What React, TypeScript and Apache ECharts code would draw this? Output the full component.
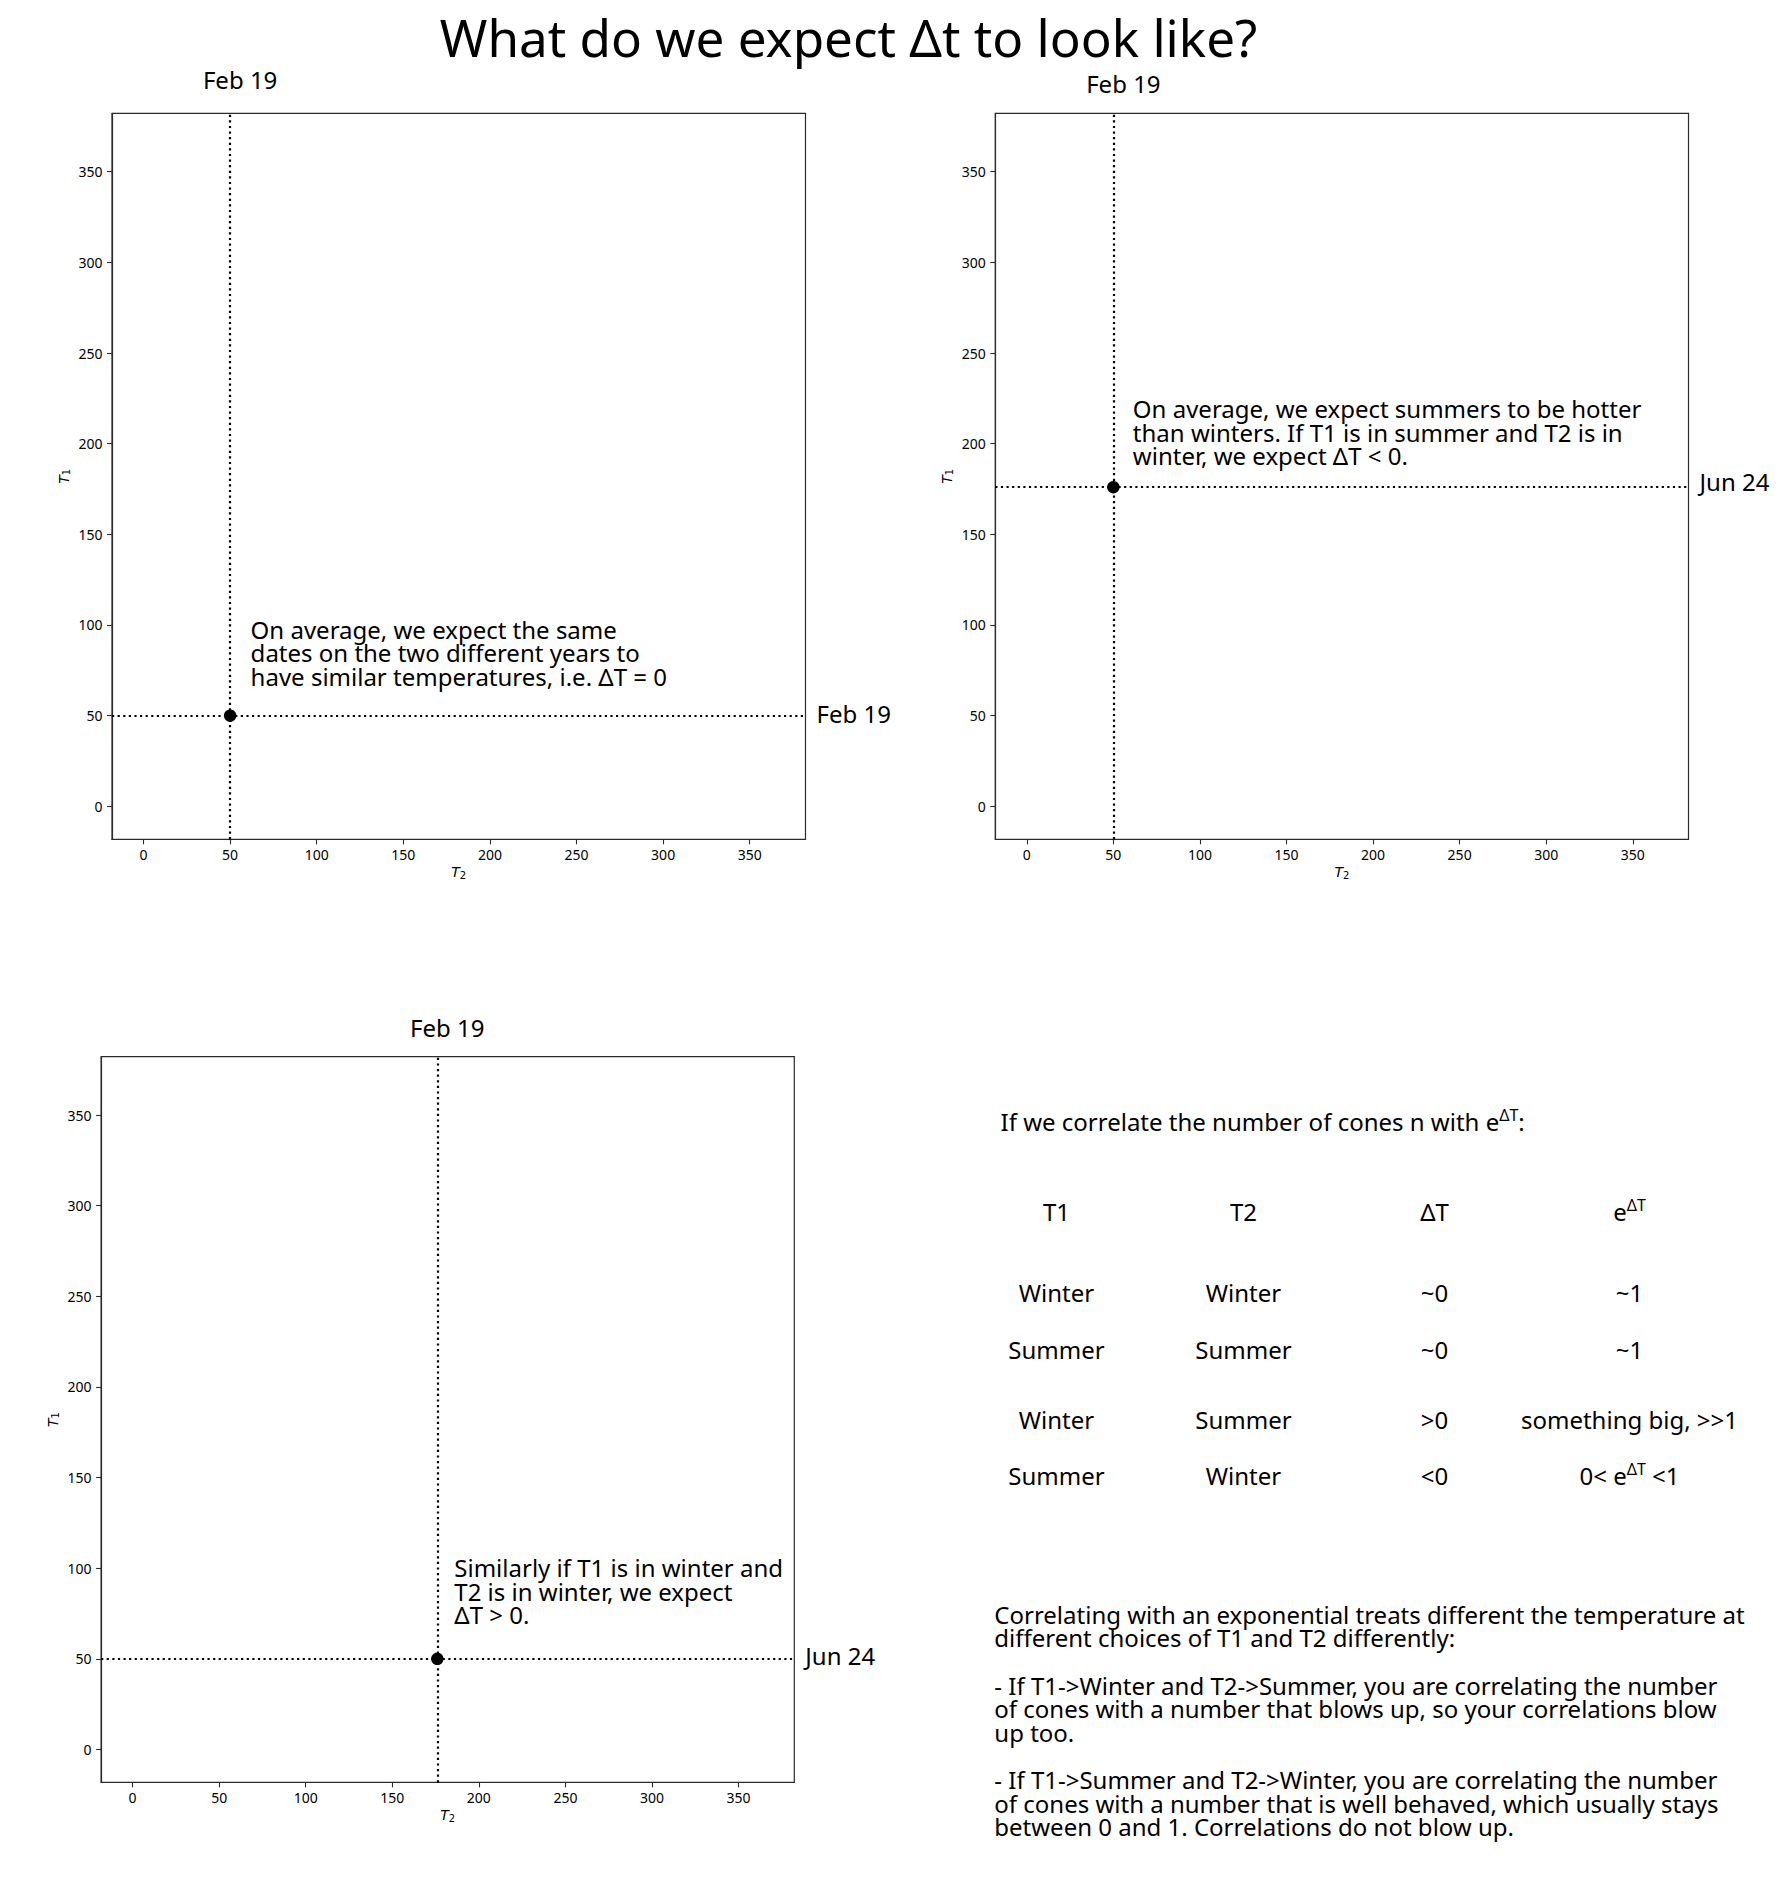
import React, { useEffect, useRef } from "react";
import * as echarts from "echarts";

// ---------- data ----------
const TITLE = "What do we expect Δt to look like?";
const TICKS = [0, 50, 100, 150, 200, 250, 300, 350];
const AXIS_MIN = -18.2;
const AXIS_MAX = 382.2;
const POINT_T2 = [50, 50, 176];
const POINT_T1 = [50, 176, 50];
const TOP_LABELS = ["Feb 19", "Feb 19", "Feb 19"];
const RIGHT_LABELS = ["Feb 19", "Jun 24", "Jun 24"];
const NOTES = [
  "On average, we expect the same\ndates on the two different years to\nhave similar temperatures, i.e. ΔT = 0",
  "On average, we expect summers to be hotter\nthan winters. If T1 is in summer and T2 is in\nwinter, we expect ΔT < 0.",
  "Similarly if T1 is in winter and\nT2 is in winter, we expect\nΔT > 0.",
];
const INTRO = "If we correlate the number of cones n with e^ΔT:";
const TABLE_HEADER = ["T1", "T2", "ΔT", "e^ΔT"];
const TABLE_ROWS = [
  ["Winter", "Winter", "~0", "~1"],
  ["Summer", "Summer", "~0", "~1"],
  ["Winter", "Summer", ">0", "something big, >>1"],
  ["Summer", "Winter", "<0", "0< e^ΔT <1"],
];
const CONCLUSION = [
  "Correlating with an exponential treats different the temperature at",
  "different choices of T1 and T2 differently:",
  "",
  "- If T1->Winter and T2->Summer, you are correlating the number",
  "of cones with a number that blows up, so your correlations blow",
  "up too.",
  "",
  "- If T1->Summer and T2->Winter, you are correlating the number",
  "of cones with a number that is well behaved, which usually stays",
  "between 0 and 1. Correlations do not blow up.",
];

// ---------- layout ----------
const W = 1792;
const H = 1887;
const FONT = "Noto Sans";
const GRIDS = [
  { left: 112, top: 113.3, width: 693.5, height: 726 },
  { left: 995.3, top: 113.3, width: 693.2, height: 726 },
  { left: 101.1, top: 1056.7, width: 693.2, height: 725.7 },
];
const TOP_LABEL_DY = [-34.3, -29.5, -29.3];
const RIGHT_LABEL_DY = [-2, -5.5, -3];
const NOTE_OFFSETS = [
  [20.5, -63],
  [19.5, -54.8],
  [17, -67.4],
];
const TABLE_COLS = [1056.5, 1243.5, 1434.5, 1629.5];
const TABLE_ROW_Y = [1211.4, 1292.1, 1349.4, 1419.4, 1475.2];

function richSup(s: string): string {
  if (s.indexOf("^ΔT") < 0) return s;
  const parts = s.split("^ΔT");
  let out = "";
  parts.forEach((p, i) => {
    if (p) out += `{m|${p}}`;
    if (i < parts.length - 1) out += "{s|ΔT}";
  });
  return out;
}

const RICH = {
  m: { fontSize: 24, fontFamily: FONT, fill: "#000", lineHeight: 28 },
  s: { fontSize: 16, fontFamily: FONT, fill: "#000", lineHeight: 15, verticalAlign: "top" },
};

function txt(
  text: string,
  x: number,
  y: number,
  size: number,
  align: string,
  vAlign: string = "middle",
  lineHeight?: number
) {
  const style: any = {
    text: richSup(text),
    fontSize: size,
    fontFamily: FONT,
    fill: "#000",
    textAlign: align,
    textVerticalAlign: vAlign,
    rich: RICH,
  };
  if (lineHeight) style.lineHeight = lineHeight;
  return { type: "text", x, y, silent: true, style };
}

const AXIS_COLOR = "#2b2b2b";

function axisName(n: string) {
  return {
    name: `{t|T}{s|${n}}`,
    nameLocation: "middle",
    nameTextStyle: {
      rich: {
        t: { fontStyle: "italic", fontSize: 14, fontFamily: "DejaVu Sans", color: "#000", lineHeight: 16 },
        s: { fontSize: 10, fontFamily: "DejaVu Sans", color: "#000", lineHeight: 10, verticalAlign: "bottom" },
      },
    },
  };
}

function valueAxis(i: number, n: string, gap: number, margin: number) {
  return {
    gridIndex: i,
    type: "value",
    min: AXIS_MIN,
    max: AXIS_MAX,
    ...axisName(n),
    nameGap: gap,
    axisLine: { show: true, onZero: false, lineStyle: { color: AXIS_COLOR, width: 1.2 } },
    axisTick: { show: true, length: 5, customValues: TICKS, lineStyle: { color: AXIS_COLOR, width: 1.1 } },
    axisLabel: {
      customValues: TICKS,
      fontSize: 14,
      lineHeight: 14,
      fontFamily: FONT,
      color: "#000",
      margin,
    },
    splitLine: { show: false },
  };
}

export default function App() {
  const ref = useRef<HTMLDivElement>(null);

  useEffect(() => {
    document.body.style.margin = "0";
    if (!ref.current) return;
    const chart = echarts.init(ref.current, null, { renderer: "svg" });

    const grid = GRIDS.map((g) => ({
      ...g,
      show: true,
      borderColor: AXIS_COLOR,
      borderWidth: 1.2,
      backgroundColor: "transparent",
      containLabel: false,
    }));

    const series = POINT_T2.map((x, i) => ({
      type: "scatter",
      xAxisIndex: i,
      yAxisIndex: i,
      data: [[x, POINT_T1[i]]],
      symbolSize: 12.5,
      z: 3,
      itemStyle: { color: "#000", opacity: 1 },
      emphasis: { disabled: true },
      silent: true,
      markLine: {
        silent: true,
        z: 1,
        symbol: ["none", "none"],
        label: { show: false },
        emphasis: { disabled: true },
        lineStyle: { type: [2.2, 3.4], color: "#000", width: 2.2, opacity: 1 },
        data: [{ xAxis: x }, { yAxis: POINT_T1[i] }],
      },
    }));

    chart.setOption({
      animation: false,
      grid,
      xAxis: GRIDS.map((_, i) => valueAxis(i, "2", 25, 8)),
      yAxis: GRIDS.map((_, i) => valueAxis(i, "1", 40.5, 9.5)),
      series,
    });

    const graphics: any[] = [];
    graphics.push(txt(TITLE, 848.5, 37.1, 51.2, "center"));

    POINT_T2.forEach((x, i) => {
      const [px, py] = chart.convertToPixel({ gridIndex: i }, [x, POINT_T1[i]]) as number[];
      const [rightX, topY] = chart.convertToPixel({ gridIndex: i }, [AXIS_MAX, AXIS_MAX]) as number[];
      graphics.push(txt(TOP_LABELS[i], px + 10, topY + TOP_LABEL_DY[i], 24, "center"));
      graphics.push(txt(RIGHT_LABELS[i], rightX + 11, py + RIGHT_LABEL_DY[i], 24, "left"));
      graphics.push(
        txt(NOTES[i], px + NOTE_OFFSETS[i][0], py + NOTE_OFFSETS[i][1], 24, "left", "middle", 23.5)
      );
    });

    graphics.push(txt(INTRO, 1000.5, 1121, 24, "left"));
    TABLE_HEADER.forEach((h, c) => {
      graphics.push(txt(h, TABLE_COLS[c], TABLE_ROW_Y[0], 24, "center"));
    });
    TABLE_ROWS.forEach((row, r) => {
      row.forEach((cell, c) => {
        graphics.push(txt(cell, TABLE_COLS[c], TABLE_ROW_Y[r + 1], 24, "center"));
      });
    });
    graphics.push(txt(CONCLUSION.join("\n"), 994.3, 1602.6, 24, "left", "top", 23.6));

    chart.setOption({ graphic: graphics });

    return () => {
      chart.dispose();
    };
  }, []);

  return <div ref={ref} style={{ width: W, height: H }} />;
}
